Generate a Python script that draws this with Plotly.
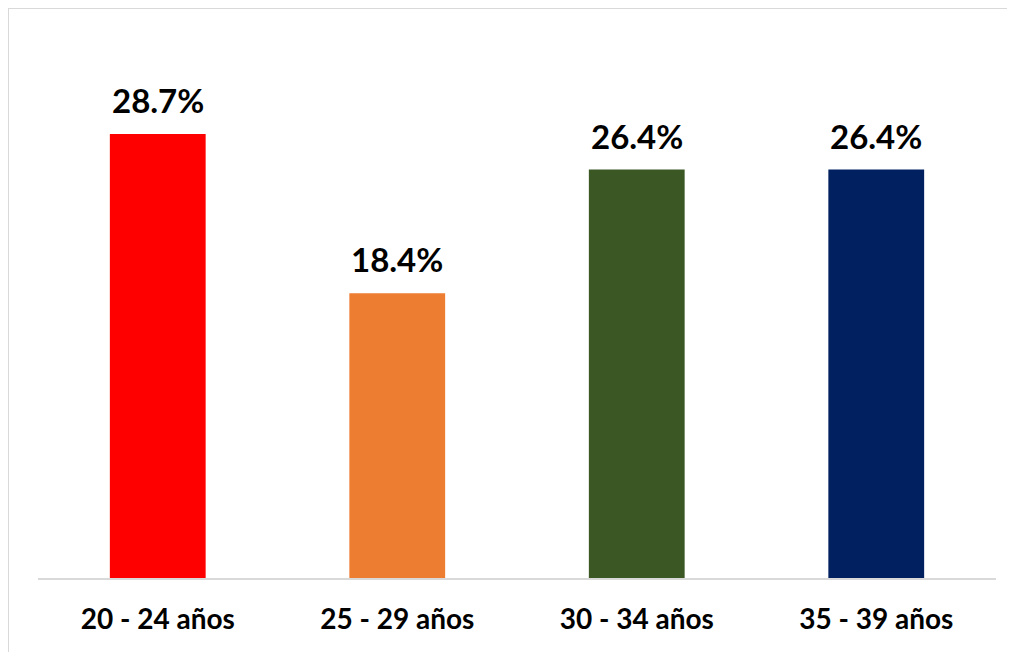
import plotly.graph_objects as go

categories = ["20 - 24 años", "25 - 29 años", "30 - 34 años", "35 - 39 años"]
values = [28.7, 18.4, 26.4, 26.4]
labels = ["28.7%", "18.4%", "26.4%", "26.4%"]
colors = ["#FF0000", "#ED7D31", "#3A5724", "#002060"]

fig = go.Figure(go.Bar(
    x=categories, y=values,
    marker=dict(color=colors, line=dict(width=0)),
    cliponaxis=False,
))

for c, v, t in zip(categories, values, labels):
    fig.add_annotation(x=c, y=v, text=t, showarrow=False, yanchor="bottom",
                       yshift=12,
                       font=dict(family="Lato", size=33, color="black", weight="bold"))

plot_h = 570 - 12
fig.update_layout(
    width=1015, height=652,
    margin=dict(l=30, r=27, t=12, b=82),
    paper_bgcolor="white", plot_bgcolor="white",
    bargap=0.6, showlegend=False,
    xaxis=dict(showline=True, linecolor="#D9D9D9", linewidth=2,
               tickfont=dict(family="Lato", size=28, color="black", weight="bold"),
               ticklabelstandoff=15, showgrid=False),
    yaxis=dict(range=[0, 36.07], visible=False),
    shapes=[dict(type="rect", xref="paper", yref="paper", x0=-30/958, x1=1.1,
                 y0=-0.3, y1=570/plot_h, line=dict(color="#D9D9D9", width=2),
                 fillcolor="rgba(0,0,0,0)", layer="below")],
)

fig.write_html("out.html")
